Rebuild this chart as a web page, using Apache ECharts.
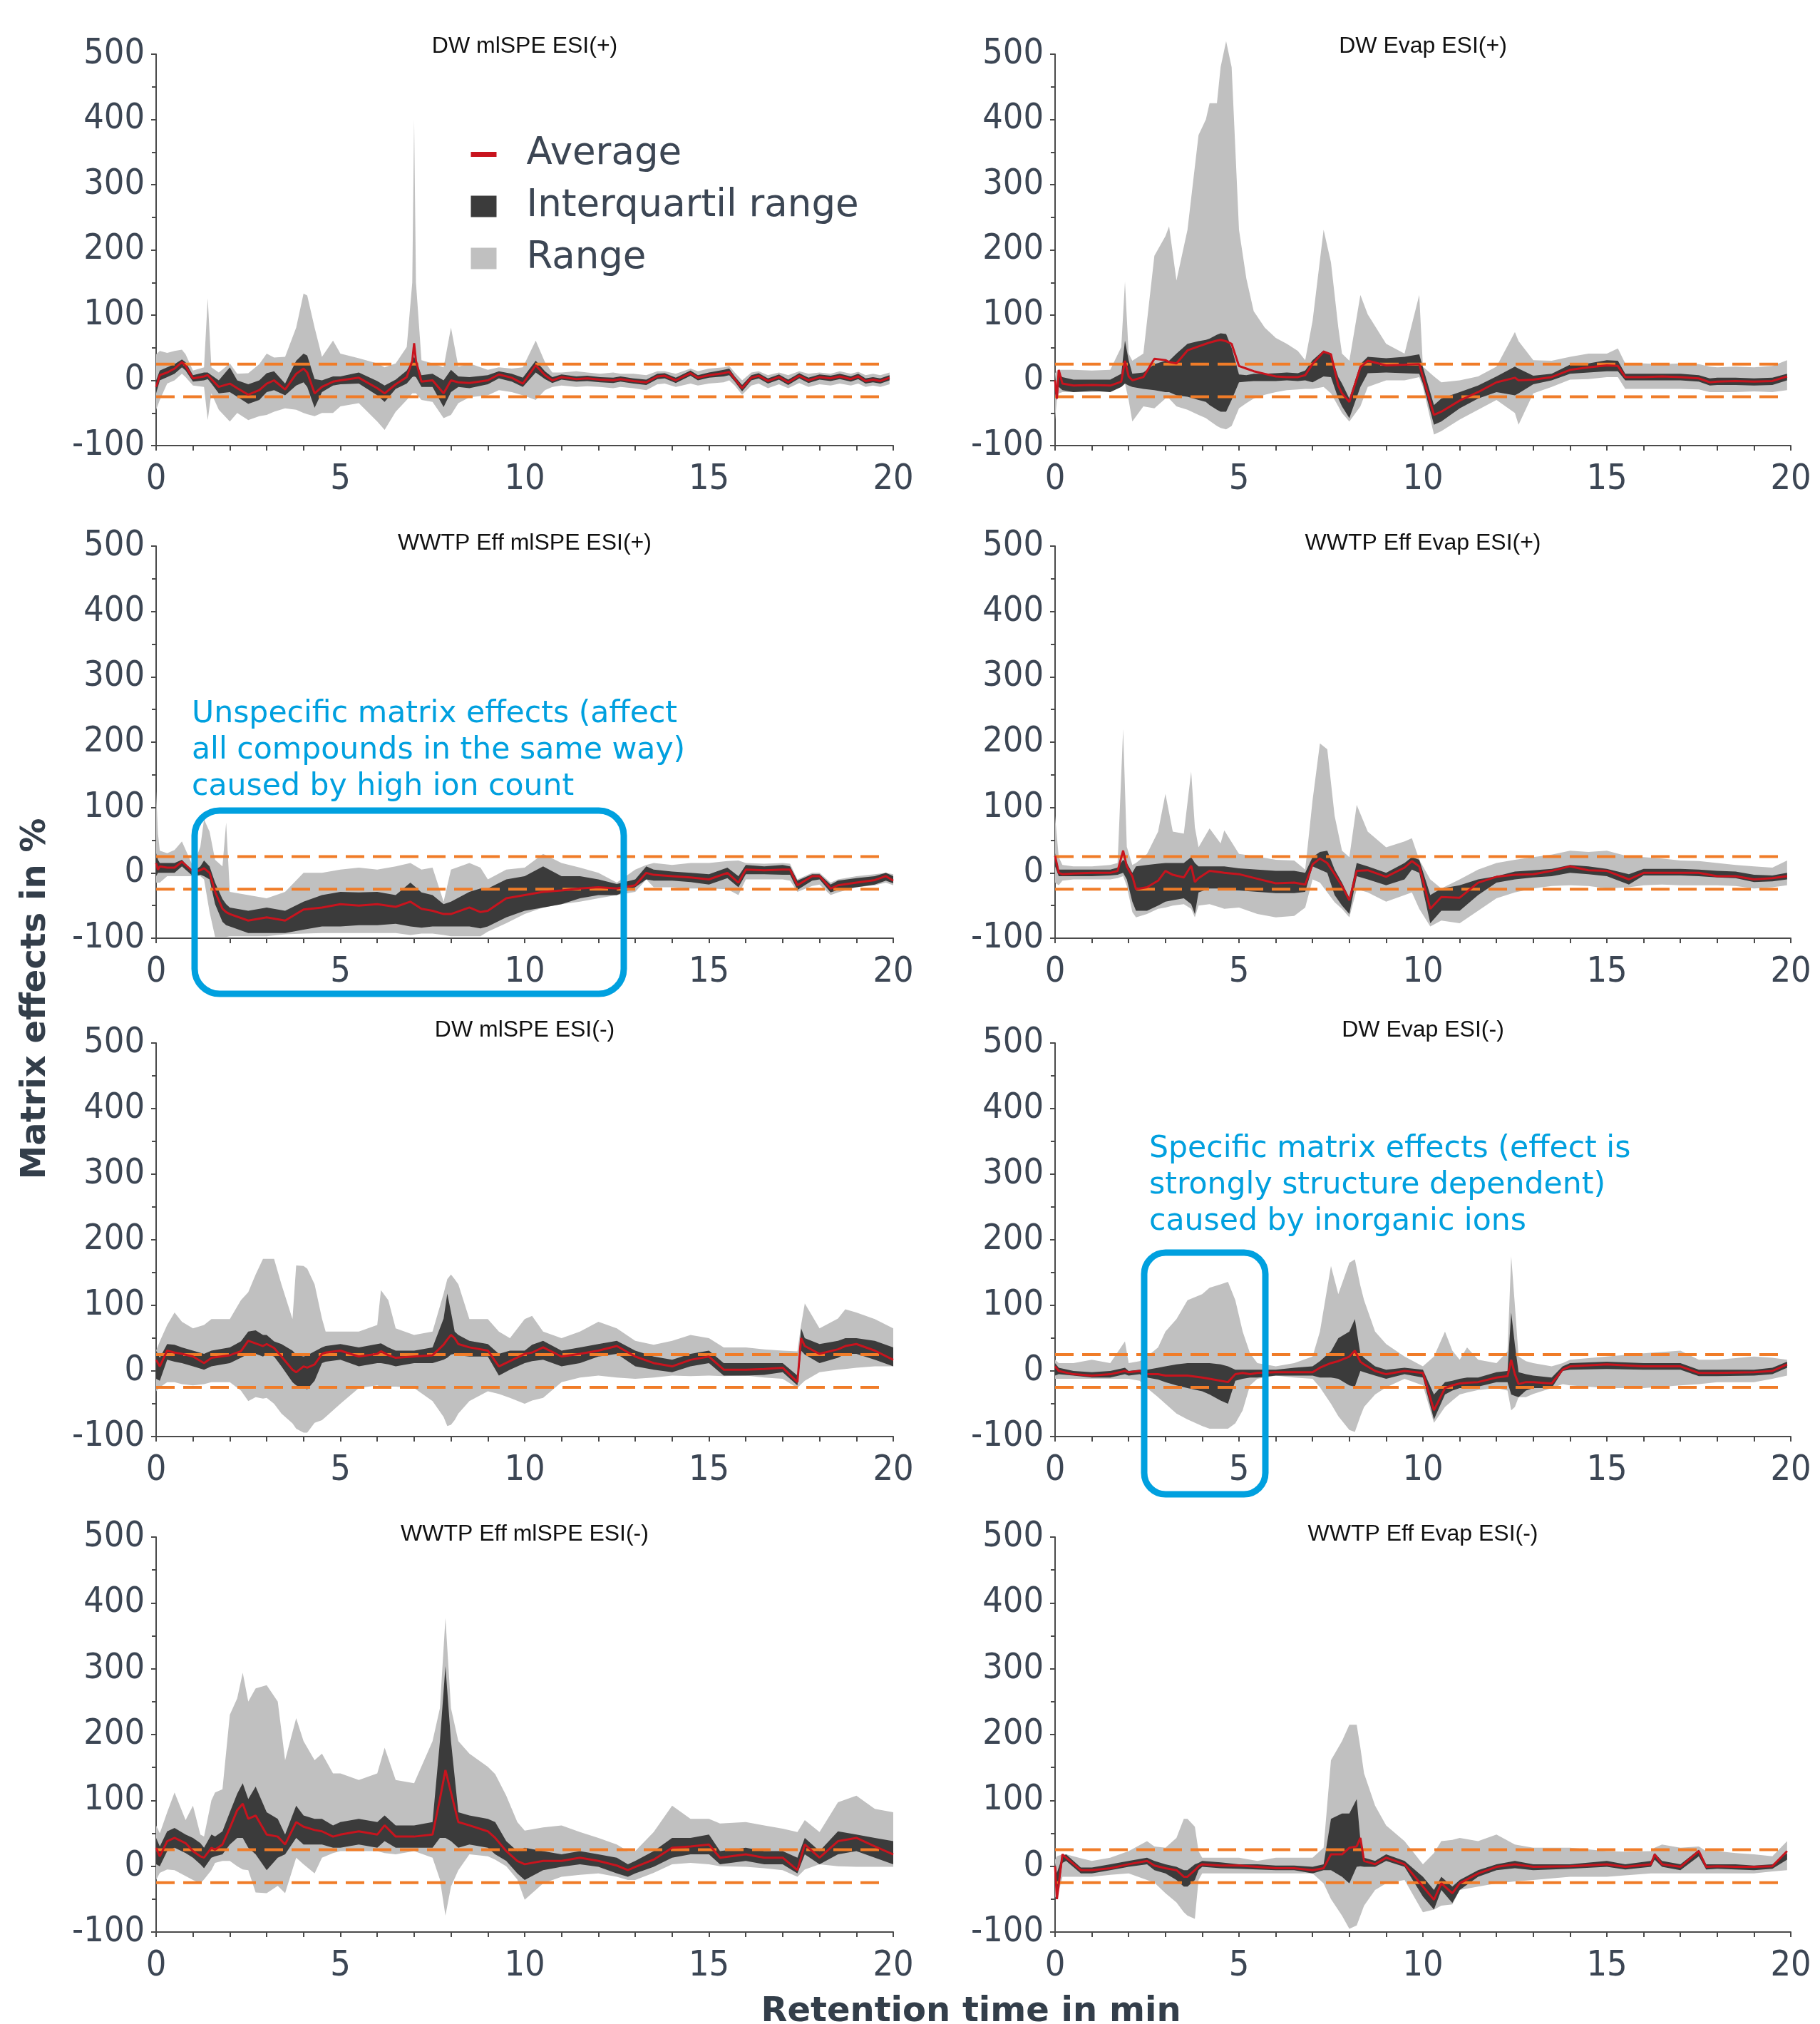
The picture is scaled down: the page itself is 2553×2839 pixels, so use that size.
<!DOCTYPE html>
<html><head><meta charset="utf-8">
<script src="https://cdn.jsdelivr.net/npm/echarts@6/dist/echarts.min.js"></script>
<style>html,body{margin:0;padding:0;background:#fff}#c{width:2553px;height:2839px}</style>
</head><body><div id="c"></div>
<script>
// ---------------- DATA ----------------
const panelTitles = ['DW mlSPE ESI(+)','DW Evap ESI(+)','WWTP Eff mlSPE ESI(+)','WWTP Eff Evap ESI(+)',
                     'DW mlSPE ESI(-)','DW Evap ESI(-)','WWTP Eff mlSPE ESI(-)','WWTP Eff Evap ESI(-)'];
const limitT = [0, 19.75];
const limitVals = [25, -25];

// Panel 1: DW mlSPE ESI(+)
const t1   = [0,0.1,0.3,0.5,0.7,0.8,1.0,1.3,1.4,1.5,1.7,2.0,2.2,2.5,2.8,3.0,3.2,3.5,3.8,4.0,4.1,4.3,4.5,4.8,5.0,5.5,6.0,6.2,6.5,6.8,6.95,7.0,7.05,7.2,7.5,7.8,8.0,8.2,8.5,
              9.0,9.3,9.65,9.95,10.3,10.55,10.75,11.0,11.4,11.7,12.05,12.4,12.6,12.95,13.3,13.6,13.8,14.1,14.5,14.7,15.0,15.4,15.55,15.7,15.9,16.15,16.35,16.6,16.9,17.15,17.45,17.7,18.0,18.3,18.55,18.85,19.05,19.25,19.45,19.65,19.9];
const hi1  = [40,45,42,45,47,40,15,20,126,20,12,26,10,11,25,41,35,36,81,133,130,81,36,61,41,34,26,20,26,51,150,400,150,31,26,20,81,21,26,
              16,20,18,20,61,28,12,12,14,12,10,12,10,10,8,14,14,10,18,14,18,20,22,12,0,12,14,8,12,8,14,10,12,10,14,10,13,8,10,8,12];
const q3_1 = [0,15,20,25,32,28,8,12,12,8,0,20,0,-6,0,11,14,-5,30,41,38,2,0,6,6,12,-1,-8,1,15,30,36,30,8,10,0,16,6,5,
              8,14,10,4,30,14,5,9,6,7,5,4,6,3,1,10,11,4,15,8,12,16,18,6,-7,8,11,3,9,1,11,4,9,7,10,6,10,3,5,3,8];
const q1_1 = [-20,0,5,10,20,15,-2,0,2,-5,-20,-18,-25,-36,-30,-18,-15,-23,-8,-3,-10,-42,-18,-8,-6,-5,-23,-33,-13,-5,5,6,5,-10,-10,-41,-18,-10,-12,
              -6,3,-2,-10,12,2,-4,1,-2,-1,-3,-4,-2,-5,-7,2,3,-4,7,0,4,6,8,-2,-17,0,3,-5,1,-7,3,-4,1,-1,2,-2,2,-5,-3,-5,0];
const lo1  = [-45,-30,-5,0,10,5,-8,-10,-61,-20,-45,-63,-50,-61,-55,-53,-48,-43,-45,-50,-52,-55,-50,-50,-40,-35,-63,-76,-48,-30,-20,-20,-20,-30,-33,-58,-53,-35,-26,
              -23,-15,-18,-23,-30,-15,-10,-8,-10,-9,-10,-12,-10,-12,-15,-6,-5,-10,-5,-8,-5,-3,0,-8,-22,-8,-5,-12,-6,-12,-4,-10,-6,-8,-5,-8,-5,-10,-8,-10,-6];
const avg1 = [-10,8,12,18,28,22,3,6,8,2,-10,-5,-12,-22,-15,-5,0,-14,10,18,12,-20,-10,-2,0,4,-12,-20,-6,5,30,57,30,-2,0,-20,0,-3,-4,
              0,9,4,-5,23,8,0,5,2,3,1,0,2,-1,-3,6,7,0,11,4,8,11,13,2,-12,4,7,-1,5,-3,7,0,5,3,6,2,6,-1,1,-1,4];

// Panel 2: DW Evap ESI(+)
const t2   = [0,0.05,0.1,0.2,0.5,1.0,1.5,1.8,1.9,2.0,2.1,2.4,2.7,3.0,3.1,3.3,3.6,3.9,4.1,4.2,4.4,4.5,4.65,4.8,5.0,5.2,5.4,5.7,6.0,6.3,6.6,6.8,7.0,7.3,7.5,7.7,7.8,8.0,8.3,8.5,9.0,9.5,9.9,10.0,10.3,10.5,11,11.5,12,12.5,12.6,13,13.5,14,14.5,15,15.3,15.5,16,16.5,17,17.5,17.8,18,18.5,19,19.5,19.9];
const hi2  = [11,15,16,16,16,15,16,51,151,41,30,41,191,221,236,153,231,376,400,425,425,480,520,480,231,156,106,81,65,56,45,31,91,231,181,81,41,30,131,101,56,41,131,21,6,-3,0,6,21,74,60,31,30,36,41,41,49,26,26,25,26,25,21,20,21,20,22,31];
const q3_2 = [10,-20,10,5,1,1,1,10,61,31,10,12,25,30,30,41,56,60,62,64,70,72,71,50,9,8,10,10,11,12,11,15,31,46,40,5,-5,-28,25,36,34,36,40,20,-38,-28,-18,-8,6,21,18,7,10,24,26,31,30,10,10,10,10,8,3,4,4,3,4,10];
const q1_2 = [-20,-30,-10,-15,-18,-16,-18,-10,-5,-8,-10,-13,-15,-18,-18,-23,-25,-30,-33,-38,-45,-48,-48,-30,-3,-2,-1,-1,-1,0,-1,0,-3,6,5,-28,-40,-58,-10,11,12,11,10,-5,-68,-63,-43,-28,-18,-23,-20,-6,0,10,12,14,14,0,0,0,0,-2,-8,-7,-7,-8,-7,0];
const lo2  = [-60,-30,-20,-18,-18,-18,-15,-10,-5,-30,-63,-40,-43,-28,-28,-40,-45,-53,-58,-62,-70,-73,-75,-70,-43,-35,-28,-22,-18,-15,-14,-13,-13,-10,-20,-40,-50,-63,-40,-10,0,0,5,-10,-83,-78,-60,-45,-30,-50,-68,-20,-10,1,2,5,5,-13,-13,-13,-13,-14,-18,-18,-18,-17,-18,-15];
const avg2 = [0,-28,16,-5,-8,-7,-8,-2,30,6,0,5,33,31,28,26,46,52,56,58,61,62,60,56,22,18,14,10,6,5,5,8,25,44,40,-8,-20,-33,20,30,23,24,25,5,-53,-48,-31,-18,-3,4,0,1,5,16,20,23,22,5,5,6,5,3,-3,-2,-1,-2,-1,6];

// Panel 3: WWTP Eff mlSPE ESI(+)
const t3   = [0,0.05,0.1,0.3,0.5,0.7,1.0,1.2,1.3,1.45,1.6,1.8,1.9,2.0,2.5,3.0,3.5,4.0,4.5,5.0,5.5,6.0,6.5,6.9,7.2,7.5,7.8,8.0,8.5,8.8,9.0,9.5,10.0,10.5,11.0,11.5,12.0,12.5,13.0,13.3,13.5,14,14.5,15,15.5,15.8,16,16.5,17,17.2,17.4,17.8,18.0,18.3,18.5,19,19.5,19.8,20];
const hi3  = [125,60,34,30,35,48,10,40,82,63,20,10,77,-29,-34,-39,-29,0,0,5,8,5,10,15,5,8,-44,5,15,8,-10,5,8,29,15,8,0,-15,5,12,15,12,15,15,18,19,15,14,15,14,-10,0,0,-15,-10,-5,-2,0,-2];
const q3_3 = [30,20,15,15,15,20,2,10,19,10,-15,-40,-48,-53,-58,-53,-58,-44,-34,-29,-30,-29,-34,-15,-30,-34,-48,-44,-29,-24,-24,-10,-5,10,-5,-5,-10,-17,-10,10,5,2,0,-2,8,-5,12,10,12,10,-12,-2,-2,-18,-12,-8,-5,0,-5];
const q1_3 = [-5,0,0,0,0,10,-5,-3,-5,-10,-48,-75,-80,-82,-92,-92,-92,-87,-82,-82,-80,-80,-78,-82,-84,-82,-82,-82,-82,-85,-82,-68,-58,-53,-48,-39,-34,-34,-22,-10,-12,-12,-14,-18,-8,-22,-2,-2,-3,-3,-26,-12,-10,-30,-26,-22,-18,-12,-16];
const lo3  = [-15,-15,-15,-5,-5,-5,-5,-5,-10,-60,-98,-98,-98,-97,-97,-97,-94,-93,-92,-92,-92,-92,-92,-95,-93,-93,-95,-97,-97,-97,-90,-77,-63,-53,-48,-44,-39,-34,-29,-10,-22,-22,-24,-24,-25,-34,-10,-10,-10,-12,-29,-20,-18,-34,-30,-22,-19,-15,-19];
const avg3 = [15,5,10,8,8,17,2,4,7,0,-29,-55,-60,-63,-73,-68,-73,-56,-53,-48,-50,-48,-52,-44,-55,-58,-63,-63,-53,-60,-58,-39,-34,-29,-27,-24,-22,-24,-19,0,-3,-5,-7,-10,0,-15,5,4,5,5,-19,-5,-5,-24,-19,-15,-11,-5,-12];

// Panel 4: WWTP Eff Evap ESI(+)
const t4   = [0,0.1,0.2,0.5,1.0,1.5,1.7,1.85,1.95,2.1,2.2,2.5,2.8,3.0,3.2,3.5,3.7,3.8,3.9,4.2,4.5,4.6,5.0,5.5,6.0,6.5,6.8,7.0,7.2,7.4,7.6,7.8,8.0,8.2,8.5,9.0,9.5,9.7,9.9,10.2,10.5,11.0,11.5,12,12.5,13,13.5,14,14.5,15,15.6,16,16.5,17,17.5,18,18.5,19,19.5,19.9];
const hi4  = [87,24,12,10,10,12,15,220,40,12,15,29,63,121,63,60,155,70,39,68,45,65,29,25,20,19,5,111,198,189,87,34,24,104,63,39,48,53,20,-10,-24,-10,5,15,20,24,28,34,32,34,25,24,22,19,18,15,12,10,8,19];
const q3_4 = [30,5,5,5,5,5,8,20,15,0,10,12,14,15,15,15,24,15,10,10,10,10,7,5,3,3,0,24,32,34,5,-15,-38,15,10,0,15,24,20,-34,-24,-19,-10,-5,2,4,6,12,10,6,-2,6,6,6,5,3,2,-3,-4,0];
const q1_4 = [10,-5,-5,-5,-5,-4,-3,0,-10,-44,-58,-58,-50,-44,-42,-39,-48,-63,-30,-24,-24,-26,-27,-29,-31,-31,-29,10,5,0,-34,-50,-63,-5,-10,-19,-10,5,0,-77,-58,-58,-34,-15,-10,-7,-5,0,-2,-5,-18,-4,-4,-4,-5,-7,-8,-14,-13,-10];
const lo4  = [-15,-19,-12,-10,-10,-10,-8,-5,-20,-60,-68,-63,-55,-53,-50,-48,-55,-68,-50,-48,-53,-55,-53,-63,-68,-66,-53,-10,-15,-30,-45,-55,-68,-25,-30,-44,-34,-30,-55,-82,-73,-77,-58,-39,-30,-24,-20,-19,-20,-24,-22,-19,-18,-19,-19,-19,-20,-24,-22,-19];
const avg4 = [26,0,-2,-1,0,0,3,34,10,-5,-25,-22,-12,3,-3,-7,11,-14,-8,3,1,0,-2,-9,-16,-15,-18,13,22,15,-2,-20,-42,3,4,-6,8,18,10,-55,-37,-38,-15,-6,-3,-2,3,10,4,3,-10,0,0,0,0,-5,-5,-10,-8,-5];

// Panel 5: DW mlSPE ESI(-)
const t5   = [0,0.1,0.3,0.5,0.7,1.0,1.3,1.5,2.0,2.3,2.5,2.7,2.9,3.0,3.2,3.4,3.7,3.8,4.0,4.1,4.3,4.5,4.6,5.0,5.5,6.0,6.1,6.3,6.5,7.0,7.5,7.8,7.9,8.0,8.1,8.2,8.5,9.0,9.3,9.6,10.0,10.2,10.5,11.0,11.5,12.0,12.5,13.0,13.5,14.0,14.5,15.0,15.4,16.0,16.5,17.0,17.4,17.5,17.6,18.0,18.5,18.7,19.0,19.5,20];
const hi5  = [31,45,70,89,75,65,70,79,79,108,120,147,171,171,171,132,79,161,160,156,132,80,60,60,60,70,123,108,65,55,60,118,140,147,140,132,79,79,60,50,79,84,60,50,60,75,65,46,40,46,55,50,36,36,33,31,30,70,103,65,80,94,89,79,65];
const q3_5 = [31,20,41,40,36,31,26,31,36,45,60,62,55,55,45,41,31,25,22,24,30,36,38,41,36,41,42,36,31,31,36,80,118,90,60,55,46,41,26,31,31,40,46,31,36,41,46,31,22,17,26,31,12,12,12,12,-7,65,50,41,46,50,50,46,36];
const q1_5 = [-12,-15,17,14,12,7,2,7,12,20,26,26,22,26,22,7,-17,-22,-26,-28,-15,12,14,17,7,12,12,10,7,12,12,17,20,25,26,24,22,22,-7,2,12,15,17,7,12,22,26,7,2,-2,7,12,-7,-7,-6,-2,-22,31,25,12,20,26,26,17,7];
const lo5  = [-31,-25,-17,-17,-20,-22,-20,-17,-17,-30,-46,-40,-42,-41,-50,-65,-80,-88,-94,-94,-79,-75,-70,-50,-26,-22,-24,-24,-24,-26,-46,-70,-84,-82,-75,-65,-46,-31,-35,-41,-50,-45,-41,-17,-10,-7,-10,-12,-10,-7,-8,-7,-8,-7,-10,-12,-26,-20,-15,-2,2,3,5,7,7];
const avg5 = [17,7,31,28,26,22,12,20,24,30,46,42,38,41,35,22,2,-2,7,5,10,26,28,31,22,26,30,24,20,22,24,40,48,55,50,41,36,31,7,15,26,28,36,22,26,31,38,22,12,7,17,22,2,2,3,5,-17,50,38,26,33,38,41,31,17];

// Panel 6: DW Evap ESI(-)
const t6   = [0,0.1,0.5,1.0,1.5,1.9,2.0,2.3,2.5,2.8,3.0,3.3,3.6,4.0,4.2,4.5,4.7,4.9,5.1,5.3,5.5,6.0,6.5,7.0,7.2,7.5,7.7,8.0,8.15,8.3,8.4,8.7,9.0,9.5,10.0,10.3,10.6,10.8,11.0,11.2,11.5,12.0,12.3,12.4,12.5,12.6,12.8,13.0,13.5,13.8,14,15,16,17,17.5,18,19,19.5,19.9];
const hi6  = [17,12,12,17,12,45,12,15,22,36,60,79,108,117,127,132,136,108,60,27,12,7,12,22,60,160,117,165,170,130,108,60,41,22,7,22,60,31,17,36,17,12,30,175,100,22,15,12,7,12,17,22,27,31,17,17,22,20,17];
const q3_6 = [12,5,0,-2,0,5,0,2,2,5,7,10,12,12,12,10,7,2,2,2,2,2,5,7,15,30,50,60,79,26,20,7,2,5,2,-36,-17,-15,-12,-10,-10,-2,0,89,40,-2,-5,-7,-10,7,12,14,12,12,2,2,2,5,14];
const q1_6 = [-7,-5,-7,-10,-10,-5,-7,-5,-10,-13,-17,-22,-26,-31,-36,-45,-50,-15,-12,-10,-10,-7,-7,-7,-10,-10,-12,-22,-24,0,-2,-7,-12,-5,-10,-74,-36,-30,-26,-26,-24,-17,-17,-36,-38,-40,-30,-26,-26,0,2,3,2,2,-8,-8,-7,-5,5];
const lo6  = [-12,-12,-12,-12,-12,-12,-12,-15,-26,-40,-50,-65,-74,-84,-88,-88,-88,-80,-60,-22,-12,-7,-10,-12,-25,-50,-69,-90,-93,-69,-55,-36,-25,-12,-22,-79,-55,-45,-36,-33,-29,-26,-30,-60,-55,-40,-40,-35,-26,-20,-22,-26,-26,-22,-20,-17,-17,-12,-7];
const avg6 = [7,0,-5,-7,-5,0,-2,0,-5,-5,-7,-7,-7,-10,-12,-15,-17,-5,-3,-5,-3,-2,-2,-2,5,12,15,22,31,14,10,0,-5,0,-3,-60,-26,-22,-19,-18,-17,-10,-8,17,-5,-20,-17,-17,-19,2,7,10,7,7,-3,-3,-2,0,10];

// Panel 7: WWTP Eff mlSPE ESI(-)
const t7   = [0,0.1,0.3,0.5,0.8,1.0,1.2,1.3,1.5,1.6,1.8,2.0,2.2,2.35,2.5,2.7,3.0,3.3,3.5,3.8,4.0,4.3,4.5,4.8,5.0,5.5,6.0,6.2,6.5,7.0,7.5,7.7,7.85,8.0,8.2,8.5,9.0,9.2,9.5,9.8,10.0,10.5,11.0,11.5,12.0,12.5,12.8,13.0,13.5,14.0,14.5,15.0,15.3,16.0,16.5,17.0,17.4,17.6,18.0,18.5,19.0,19.5,20];
const hi7  = [62,50,82,112,70,92,48,45,100,112,117,230,255,294,250,270,275,250,161,225,190,161,171,141,141,131,141,180,131,126,190,240,377,240,190,171,151,140,107,67,54,59,62,52,43,33,23,23,52,92,72,72,65,67,62,57,52,70,52,97,107,87,82];
const q3_7 = [43,30,53,58,48,43,35,28,48,45,53,82,110,126,102,121,82,72,48,92,77,72,72,62,67,72,67,77,62,62,67,190,304,190,82,77,72,67,38,23,28,23,18,23,18,13,3,8,23,43,43,48,23,28,23,23,13,43,23,53,48,43,38];
const q1_7 = [3,0,23,28,20,13,3,-3,13,15,18,33,43,43,28,18,-6,13,18,43,33,33,33,28,28,33,28,38,28,28,28,43,43,38,28,33,28,18,8,-11,-21,-6,-1,3,-1,-11,-16,-11,-1,13,18,18,3,8,3,3,-11,18,3,18,23,13,3];
const lo7  = [-21,-10,-5,-6,-15,-21,-26,-20,-6,5,8,8,0,-5,-6,-40,-41,-30,-41,13,3,-11,13,20,23,23,23,20,18,23,13,-20,-75,-31,-6,18,15,10,0,-20,-51,-26,-16,-13,-11,-16,-21,-21,-10,3,5,3,0,-1,-3,-6,-16,-5,3,0,-1,-1,-1];
const avg7 = [28,15,38,43,35,23,15,13,28,25,33,58,85,95,72,77,48,45,33,67,60,55,53,45,48,53,48,62,45,45,48,102,146,112,67,62,53,43,23,8,3,8,8,13,8,1,-6,-1,10,28,30,33,13,18,13,13,-6,33,13,38,43,30,18];

// Panel 8: WWTP Eff Evap ESI(-)
const t8   = [0,0.05,0.2,0.3,0.7,1.0,1.5,2.0,2.5,2.7,3.0,3.3,3.5,3.6,3.8,3.9,4.0,4.5,5.0,5.5,6.0,6.5,7.0,7.3,7.5,7.8,8.0,8.2,8.3,8.4,8.7,9.0,9.5,10.0,10.3,10.5,10.8,11.0,11.5,12.0,12.5,13,14,15,15.5,16.2,16.3,16.5,17,17.5,17.7,18,18.5,19,19.5,19.9];
const hi8  = [10,15,18,18,12,8,13,23,38,30,28,43,72,72,60,23,13,13,13,8,13,13,13,28,161,190,215,215,180,141,92,62,38,3,20,38,40,43,38,48,33,28,28,23,22,23,28,33,28,30,23,23,20,18,15,38];
const q3_8 = [5,-10,15,18,-2,-2,3,8,13,8,3,-1,-6,-6,3,5,8,6,3,3,1,1,-1,3,72,80,80,102,40,13,8,18,8,-16,-36,-16,-31,-21,-6,3,8,3,3,8,3,8,20,8,3,25,3,3,3,1,3,20];
const q1_8 = [-20,-50,5,8,-11,-11,-6,-1,3,-6,-11,-21,-31,-31,-21,-6,-1,-3,-4,-5,-6,-6,-11,-6,-6,-16,-26,-1,0,-1,-1,8,-1,-46,-66,-36,-56,-36,-16,-6,-3,-6,-4,-1,-5,-1,10,-1,-6,15,-5,-4,-5,-6,-4,10];
const lo8  = [-46,-50,-16,-16,-16,-16,-13,-11,-21,-25,-41,-55,-70,-75,-80,-21,-11,-11,-11,-11,-11,-11,-11,-26,-50,-75,-95,-90,-75,-60,-36,-26,-21,-70,-66,-60,-58,-36,-31,-26,-23,-21,-16,-16,-14,-11,-11,-11,-11,-11,-11,-11,-11,-11,-8,-6];
const avg8 = [0,-50,18,13,-6,-6,-3,3,8,1,-3,-6,-16,-16,-6,0,3,1,1,-1,-3,-3,-6,-3,18,18,28,30,43,8,3,13,3,-31,-51,-26,-41,-26,-11,-1,3,-1,0,3,-1,3,18,3,-1,23,-1,0,-1,-1,0,23];

// ---------------- BUILD ----------------
const panels = [
  {t:t1,hi:hi1,q3:q3_1,q1:q1_1,lo:lo1,avg:avg1},
  {t:t2,hi:hi2,q3:q3_2,q1:q1_2,lo:lo2,avg:avg2},
  {t:t3,hi:hi3,q3:q3_3,q1:q1_3,lo:lo3,avg:avg3},
  {t:t4,hi:hi4,q3:q3_4,q1:q1_4,lo:lo4,avg:avg4},
  {t:t5,hi:hi5,q3:q3_5,q1:q1_5,lo:lo5,avg:avg5},
  {t:t6,hi:hi6,q3:q3_6,q1:q1_6,lo:lo6,avg:avg6},
  {t:t7,hi:hi7,q3:q3_7,q1:q1_7,lo:lo7,avg:avg7},
  {t:t8,hi:hi8,q3:q3_8,q1:q1_8,lo:lo8,avg:avg8}
];
const errs = [];
panels.forEach((p,i)=>{['hi','q3','q1','lo','avg'].forEach(k=>{ if(p[k].length!==p.t.length) errs.push('panel '+(i+1)+' '+k+' '+p[k].length+' vs '+p.t.length); });});
if (errs.length) throw new Error(errs.join('; '));

// condensed tick-label font if installed
function textW(font){ const c=document.createElement('canvas').getContext('2d'); c.font=font; return c.measureText('0123456789 -500 400').width; }
const wMono = textW('40px monospace'), wDV = textW('40px "DejaVu Sans", monospace'), wDVC = textW('40px "DejaVu Sans Condensed", monospace');
const hasCond = Math.abs(wDVC-wMono)>1 && Math.abs(wDVC-wDV)>1;
const TICK_FONT = hasCond ? 'DejaVu Sans Condensed' : 'DejaVu Sans';
const TICK_SIZE = hasCond ? 50 : 46;

const RANGE_C = '#c0c0c0', IQR_C = '#3b3b3b', AVG_C = '#c8141e', LIM_C = '#f07c28';
const AXIS_C = '#4a4a4a', LABEL_C = '#3c4654';
const rowTop = [76, 766, 1463, 2156], rowH = [549, 550, 552, 554];
const colLeft = [219, 1480], colW = [1034, 1032];
const titleY = [65, 762, 1445, 2152];

function band(i, t, lo, hi, name, color, z){
  return {
    type:'custom', name:name, xAxisIndex:i, yAxisIndex:i, z:z, silent:true,
    itemStyle:{color:color},
    data:[[t[0], lo[0]]],
    renderItem:function(params, api){
      const pts = [];
      for (let k=0;k<t.length;k++) pts.push(api.coord([t[k], hi[k]]));
      for (let k=t.length-1;k>=0;k--) pts.push(api.coord([t[k], lo[k]]));
      return {type:'polygon', shape:{points:pts}, style:{fill:color}};
    }
  };
}

const grid=[], xAxis=[], yAxis=[], series=[], graphic=[];
panels.forEach((p,i)=>{
  const r = Math.floor(i/2), c = i%2;
  grid.push({left:colLeft[c], top:rowTop[r], width:colW[c], height:rowH[r], containLabel:false, outerBoundsMode:'none'});
  const tickStyle = {color:AXIS_C, width:2};
  const lbl = {fontFamily:TICK_FONT, fontSize:TICK_SIZE, color:LABEL_C, showMinLabel:true, showMaxLabel:true};
  xAxis.push({gridIndex:i, type:'value', min:0, max:20, interval:5,
    axisLine:{show:true, onZero:false, lineStyle:tickStyle},
    axisTick:{show:true, length:7, lineStyle:tickStyle},
    minorTick:{show:true, splitNumber:5, length:7, lineStyle:tickStyle},
    splitLine:{show:false}, minorSplitLine:{show:false},
    axisLabel:Object.assign({margin:23}, lbl)});
  yAxis.push({gridIndex:i, type:'value', min:-100, max:500, interval:100,
    axisLine:{show:true, onZero:false, lineStyle:tickStyle},
    axisTick:{show:true, length:7, lineStyle:tickStyle},
    minorTick:{show:true, splitNumber:2, length:6, lineStyle:tickStyle},
    splitLine:{show:false}, minorSplitLine:{show:false},
    axisLabel:Object.assign({margin:16}, lbl)});
  series.push(band(i, p.t, p.lo, p.hi, 'Range', RANGE_C, 1));
  series.push(band(i, p.t, p.q1, p.q3, 'Interquartil range', IQR_C, 2));
  limitVals.forEach(v=>{
    series.push({type:'line', xAxisIndex:i, yAxisIndex:i, z:3, silent:true, symbol:'none',
      data:limitT.map(x=>[x, v]),
      lineStyle:{color:LIM_C, width:4, type:[26,12]}});
  });
  series.push({type:'line', name:'Average', xAxisIndex:i, yAxisIndex:i, z:4, silent:true,
    symbol:'none', showSymbol:false,
    data:p.t.map((x,k)=>[x, p.avg[k]]),
    itemStyle:{color:AVG_C}, lineStyle:{color:AVG_C, width:3}});
  graphic.push({type:'text', x:colLeft[c]+colW[c]/2, y:titleY[r], z:100,
    style:{text:panelTitles[i], fontFamily:'Liberation Sans', fontSize:32, fill:'#111',
      align:'center', verticalAlign:'middle', textAlign:'center', textVerticalAlign:'middle'}});
});

const BLUE = '#00a0df';
graphic.push(
  {type:'text', x:269, y:976, z:100, style:{text:'Unspecific matrix effects (affect\nall compounds in the same way)\ncaused by high ion count',
    fontFamily:'DejaVu Sans', fontSize:42.6, lineHeight:51, fill:BLUE, align:'left', verticalAlign:'top', textAlign:'left', textVerticalAlign:'top'}},
  {type:'rect', z:100, shape:{x:273, y:1137, width:602, height:257, r:35}, style:{fill:'rgba(0,0,0,0)', stroke:BLUE, lineWidth:9}},
  {type:'text', x:1612, y:1586, z:100, style:{text:'Specific matrix effects (effect is\nstrongly structure dependent)\ncaused by inorganic ions',
    fontFamily:'DejaVu Sans', fontSize:42.6, lineHeight:51, fill:BLUE, align:'left', verticalAlign:'top', textAlign:'left', textVerticalAlign:'top'}},
  {type:'rect', z:100, shape:{x:1605, y:1757, width:170, height:339, r:30}, style:{fill:'rgba(0,0,0,0)', stroke:BLUE, lineWidth:9}},
  {type:'text', x:51, y:1401, rotation:Math.PI/2, z:100, style:{text:'Matrix effects in %', fontFamily:'DejaVu Sans', fontWeight:'bold', fontSize:48, fill:'#333e4a',
    align:'center', verticalAlign:'middle', textAlign:'center', textVerticalAlign:'middle'}},
  {type:'text', x:1362, y:2823, z:100, style:{text:'Retention time in min', fontFamily:'DejaVu Sans', fontWeight:'bold', fontSize:48, fill:'#333e4a',
    align:'center', verticalAlign:'middle', textAlign:'center', textVerticalAlign:'middle'}}
);

const chart = echarts.init(document.getElementById('c'), null, {renderer:'canvas', width:2553, height:2839});
chart.setOption({
  animation:false,
  backgroundColor:'#ffffff',
  grid:grid, xAxis:xAxis, yAxis:yAxis, series:series, graphic:graphic,
  legend:{
    orient:'vertical', left:657, top:190, padding:0, itemGap:20,
    itemWidth:36, itemHeight:30, selectedMode:false,
    textStyle:{fontFamily:'DejaVu Sans', fontSize:53, color:LABEL_C, padding:[0,0,0,37]},
    data:[
      {name:'Average', lineStyle:{width:7, color:AVG_C}, itemStyle:{opacity:0}},
      {name:'Interquartil range', icon:'rect'},
      {name:'Range', icon:'rect'}
    ]
  }
});
</script>
</body></html>
